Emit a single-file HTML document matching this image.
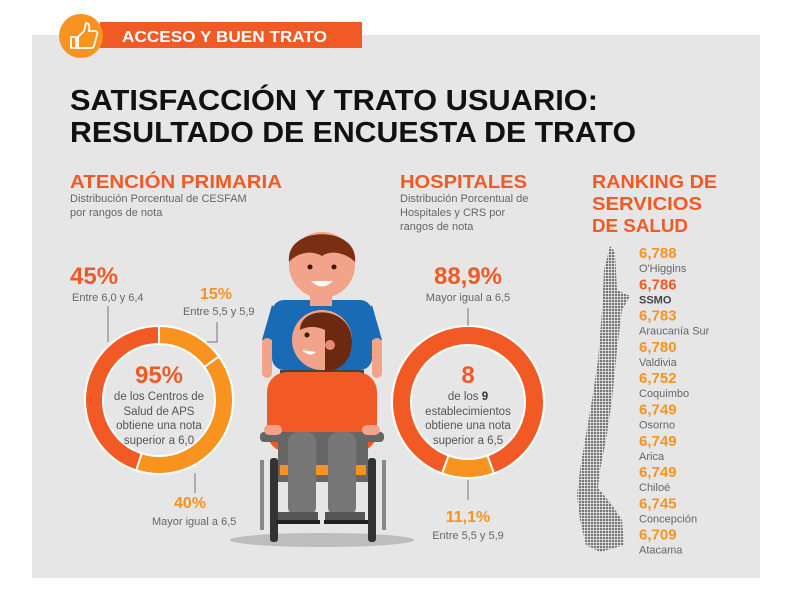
<!DOCTYPE html>
<html><head><meta charset="utf-8"><style>
html,body{margin:0;padding:0;background:#fff;}
svg{display:block;font-family:"Liberation Sans",sans-serif;}
</style></head><body>
<svg id="c" width="792" height="612" viewBox="0 0 792 612">
<defs>
<pattern id="dots" width="3" height="3" patternUnits="userSpaceOnUse"><rect width="2.2" height="2.2" fill="#777"/></pattern>
</defs>
<rect x="32" y="35" width="728" height="543" fill="#e6e6e6"/>
<g>
<rect x="100" y="22" width="262" height="26" fill="#f15a24"/>
<circle cx="81" cy="36" r="22" fill="#f7931e"/>
<path d="M71 37h5v11h-5z M78 37l6-6 2-8c3 0 4 3 3 8h6c2 0 3 2 2 4l-3 11c-1 2-2 2-4 2h-12z" fill="none" stroke="#fff" stroke-width="1.8"/>
<text x="122" y="42" fill="#fff" font-size="16" font-weight="bold" textLength="205" lengthAdjust="spacingAndGlyphs">ACCESO Y BUEN TRATO</text>
</g>
<g font-weight="bold" font-size="29" fill="#111">
<text x="70" y="110" textLength="528" lengthAdjust="spacingAndGlyphs">SATISFACCIÓN Y TRATO USUARIO:</text>
<text x="70" y="142" textLength="566" lengthAdjust="spacingAndGlyphs">RESULTADO DE ENCUESTA DE TRATO</text>
</g>
<g fill="#f15a24" font-weight="bold" font-size="18">
<text x="70" y="188" textLength="212" lengthAdjust="spacingAndGlyphs">ATENCIÓN PRIMARIA</text>
<text x="400" y="188" textLength="127" lengthAdjust="spacingAndGlyphs">HOSPITALES</text>
<g>
<text x="592" y="188" textLength="125" lengthAdjust="spacingAndGlyphs">RANKING DE</text>
<text x="592" y="210" textLength="110" lengthAdjust="spacingAndGlyphs">SERVICIOS</text>
<text x="592" y="232" textLength="96" lengthAdjust="spacingAndGlyphs">DE SALUD</text></g>
</g>
<g fill="#666" font-size="11">
<text x="70" y="202">Distribución Porcentual de CESFAM</text>
<text x="70" y="216">por rangos de nota</text>
<text x="400" y="202">Distribución Porcentual de</text>
<text x="400" y="216">Hospitales y CRS por</text>
<text x="400" y="230">rangos de nota</text>
</g>

<g>
<ellipse cx="322" cy="540" rx="92" ry="7" fill="#bdbdbd"/>
<rect x="272" y="300" width="100" height="70" rx="12" fill="#1a6bb5"/>
<path d="M272 305 L262 340 L270 345 L280 315Z M372 305 L382 340 L374 345 L364 315Z" fill="#1a6bb5"/>
<rect x="262" y="338" width="10" height="40" rx="5" fill="#f2a48a"/>
<rect x="372" y="338" width="10" height="40" rx="5" fill="#f2a48a"/>
<rect x="310" y="290" width="22" height="16" fill="#f2a48a"/>
<circle cx="322" cy="265" r="33" fill="#f2a48a"/>
<path d="M289 262 C285 225 359 225 355 262 C345 252 330 250 322 256 C312 250 298 252 289 262Z" fill="#7b2e12"/>
<circle cx="310" cy="267" r="2.5" fill="#3a1a0a"/><circle cx="334" cy="267" r="2.5" fill="#3a1a0a"/>
<path d="M311 281 Q322 292 333 281Z" fill="#fff"/>
<rect x="270" y="458" width="8" height="84" rx="3" fill="#333"/>
<rect x="368" y="458" width="8" height="84" rx="3" fill="#333"/>
<rect x="260" y="460" width="4" height="70" fill="#888"/><rect x="382" y="460" width="4" height="70" fill="#888"/>
<rect x="280" y="370" width="84" height="70" fill="#444"/>
<rect x="267" y="372" width="110" height="80" rx="20" fill="#f15a24"/>
<rect x="260" y="432" width="124" height="10" rx="4" fill="#666"/>
<rect x="278" y="442" width="90" height="40" fill="#666"/>
<rect x="280" y="465" width="86" height="10" fill="#f7931e"/>
<rect x="288" y="432" width="28" height="85" rx="10" fill="#777"/>
<rect x="328" y="432" width="28" height="85" rx="10" fill="#777"/>
<rect x="278" y="512" width="40" height="8" fill="#555"/><rect x="325" y="512" width="40" height="8" fill="#555"/>
<rect x="276" y="520" width="44" height="4" fill="#222"/><rect x="324" y="520" width="44" height="4" fill="#222"/>
<circle cx="322" cy="340" r="30" fill="#f2a48a"/>
<path d="M300 330 C300 305 350 305 352 340 C352 360 342 370 325 372 L325 330 C315 325 305 327 300 330Z" fill="#6b2a10"/>
<circle cx="330" cy="345" r="5" fill="#e98a72"/>
<circle cx="307" cy="335" r="2.5" fill="#3a1a0a"/>
<path d="M302 350 Q310 358 316 352Z" fill="#fff"/>
<rect x="264" y="425" width="18" height="10" rx="5" fill="#f2a48a"/><rect x="362" y="425" width="18" height="10" rx="5" fill="#f2a48a"/>
</g>

<polygon fill="url(#dots)" points="610,246 615,252 617,290 630,296 622,310 617,350 612,400 606,440 600,470 598,488 612,505 622,520 624,545 600,552 586,545 580,520 577,495 580,470 585,440 592,400 598,360 602,310 604,270"/>

<g id="donuts"></g>
<g id="ranking"></g>

<g fill="#555" font-size="11.5" text-anchor="middle">
<g>
<text x="159" y="383" font-size="24" font-weight="bold" fill="#f15a24">95%</text>
<text x="159" y="400">de los Centros de</text>
<text x="159" y="415">Salud de APS</text>
<text x="159" y="429">obtiene una nota</text>
<text x="159" y="444">superior a 6,0</text></g>
<g>
<text x="468" y="383" font-size="24" font-weight="bold" fill="#f15a24">8</text>
<text x="468" y="400">de los <tspan font-weight="bold" fill="#333">9</tspan></text>
<text x="468" y="415">establecimientos</text>
<text x="468" y="429">obtiene una nota</text>
<text x="468" y="444">superior a 6,5</text></g>
</g>
<g stroke="#777" stroke-width="1" fill="none">
<path d="M108 306V342"/><path d="M217 322V342H207"/><path d="M195 473V493"/>
<path d="M468 308V326"/><path d="M468 480V500"/>
</g>
<g font-weight="bold">
<text x="70" y="284" font-size="24" fill="#f15a24">45%</text>
<text x="200" y="299" font-size="16" fill="#f7931e">15%</text>
<text x="174" y="508" font-size="16" fill="#f7931e">40%</text>
<text x="468" y="284" font-size="24" fill="#f15a24" text-anchor="middle">88,9%</text>
<text x="468" y="522" font-size="16" fill="#f7931e" text-anchor="middle">11,1%</text>
</g>
<g fill="#666" font-size="11">
<text x="72" y="301">Entre 6,0 y 6,4</text>
<text x="183" y="315">Entre 5,5 y 5,9</text>
<text x="152" y="525">Mayor igual a 6,5</text>
<text x="468" y="301" text-anchor="middle">Mayor igual a 6,5</text>
<text x="468" y="539" text-anchor="middle">Entre 5,5 y 5,9</text>
</g>
</svg>
<script>
const apsLabels = ["15%", "40%", "45%"];
const apsValues = [15, 40, 45];
const hospLabels = ["11,1%", "88,9%"];
const hospValues = [11.1, 88.9];
const services = ["O'Higgins","SSMO","Araucanía Sur","Valdivia","Coquimbo","Osorno","Arica","Chiloé","Concepción","Atacama"];
const scores = [6.788,6.786,6.783,6.780,6.752,6.749,6.749,6.749,6.745,6.709];

const NS = "http://www.w3.org/2000/svg";
function arcPath(cx, cy, r0, r1, a0, a1) {
  const p = (r, a) => [cx + r * Math.sin(a), cy - r * Math.cos(a)];
  const large = (a1 - a0) > Math.PI ? 1 : 0;
  const [x0, y0] = p(r1, a0), [x1, y1] = p(r1, a1), [x2, y2] = p(r0, a1), [x3, y3] = p(r0, a0);
  return `M${x0} ${y0}A${r1} ${r1} 0 ${large} 1 ${x1} ${y1}L${x2} ${y2}A${r0} ${r0} 0 ${large} 0 ${x3} ${y3}Z`;
}
function donut(values, colors, cx, cy, r0, r1, start, name) {
  const g = document.getElementById('donuts');
  const total = values.reduce((a, b) => a + b, 0);
  let a = start;
  values.forEach((v, i) => {
    const sweep = v / total * Math.PI * 2;
    const path = document.createElementNS(NS, 'path');
    path.setAttribute('d', arcPath(cx, cy, r0, r1, a, a + sweep));
    path.setAttribute('fill', colors[i]);
    path.setAttribute('stroke', '#fff');
    path.setAttribute('stroke-width', '2');
    
    
    g.appendChild(path);
    a += sweep;
  });
}
donut(apsValues, ["#f7931e", "#f7931e", "#f15a24"], 159, 400, 56, 74, 0, 'aps-donut');
const hStart = Math.PI - (hospValues[0] / 100) * Math.PI;
donut(hospValues, ["#f7931e", "#f15a24"], 468, 402, 57, 76, hStart, 'hospital-donut');

const rg = document.getElementById('ranking');
services.forEach((s, i) => {
  const y = 258 + i * 31.3;
  const v = document.createElementNS(NS, 'text');
  v.setAttribute('x', 639); v.setAttribute('y', y);
  v.setAttribute('font-size', '15'); v.setAttribute('font-weight', 'bold');
  v.setAttribute('fill', i === 1 ? '#f15a24' : '#f7931e');
  v.textContent = scores[i].toFixed(3).replace('.', ',');
  
  
  rg.appendChild(v);
  const t = document.createElementNS(NS, 'text');
  t.setAttribute('x', 639); t.setAttribute('y', y + 14);
  t.setAttribute('font-size', '11');
  t.setAttribute('fill', i === 1 ? '#444' : '#666');
  if (i === 1) t.setAttribute('font-weight', 'bold');
  t.textContent = s;
  
  
  rg.appendChild(t);
});
</script>
</body></html>
